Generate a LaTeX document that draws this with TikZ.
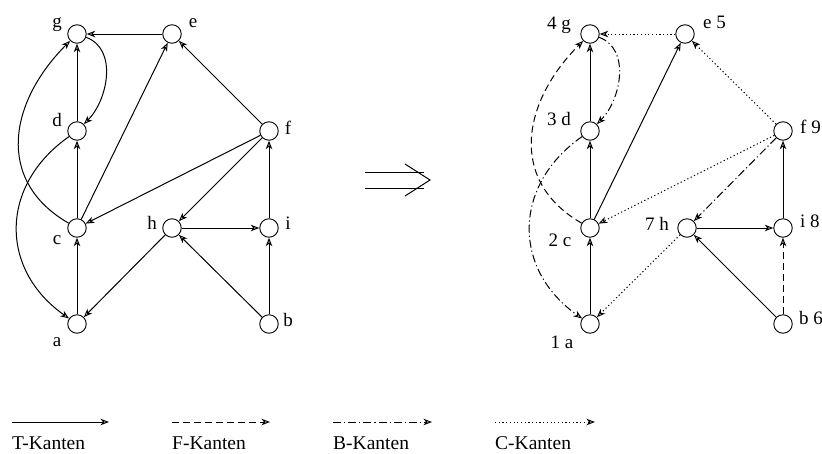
\documentclass[tikz,border=0pt]{standalone}
\usepackage{fontspec}
\setmainfont{Liberation Serif}
\usetikzlibrary{positioning, arrows.meta}

\begin{document}
\begin{tikzpicture}[x=1pt, y=1pt,
    vertex/.style={circle, draw, line width=0.9pt, minimum size=18.5pt, inner sep=0pt},
    lbl/.style={inner sep=0pt, font=\fontsize{19}{21}\selectfont},
    keylbl/.style={lbl, anchor=base west, font=\fontsize{19.5}{21}\selectfont},
    link/.style={line width=1pt, -{Stealth[open, length=8.5pt, width=6.5pt, inset=2.5pt]}},
    tedge/.style={link},
    fedge/.style={link, dash pattern=on 7pt off 4pt},
    bedge/.style={link, dash pattern=on 8pt off 3pt on 1.2pt off 3pt},
    cedge/.style={link, dash pattern=on 1.2pt off 2.5pt}
  ]
  \useasboundingbox (0,0) rectangle (822,-453);

  % Graph vorher
  \node[vertex] (g) at (77,-34) {};
  \node[vertex] (e) at (172,-34) {};
  \node[vertex] (d) at (77,-131) {};
  \node[vertex] (f) at (269,-131) {};
  \node[vertex] (c) at (77,-228) {};
  \node[vertex] (h) at (172,-228) {};
  \node[vertex] (i) at (269,-228) {};
  \node[vertex] (a) at (77,-324) {};
  \node[vertex] (b) at (269,-324) {};

  \node[lbl] (lg) at (57,-25) {g};
  \node[lbl] (le) at (193,-23) {e};
  \node[lbl] (ld) at (57,-120) {d};
  \node[lbl] (lf) at (288,-128) {f};
  \node[lbl] (lc) at (57,-240) {c};
  \node[lbl] (lh) at (152,-223) {h};
  \node[lbl] (li) at (288,-223) {i};
  \node[lbl] (la) at (57,-342) {a};
  \node[lbl] (lb) at (288,-320) {b};

  \draw[tedge] (e) -- (g);
  \draw[tedge] (d) -- (g);
  \draw[tedge] (c) -- (d);
  \draw[tedge] (a) -- (c);
  \draw[tedge] (c) -- (e);
  \draw[tedge] (f) -- (e);
  \draw[tedge] (f) -- (c);
  \draw[tedge] (f) -- (h);
  \draw[tedge] (h) -- (i);
  \draw[tedge] (i) -- (f);
  \draw[tedge] (b) -- (h);
  \draw[tedge] (b) -- (i);
  \draw[tedge] (h) -- (a);
  \draw[tedge] (c) to[out=150, in=225, looseness=1.2] (g);
  \draw[tedge] (d) to[out=215, in=145, looseness=1.2] (a);
  \draw[tedge] (g) to[out=-20, in=45] (d);

  % Doppelpfeil
  \draw[line width=1pt] (365,-172) -- (424,-172);
  \draw[line width=1pt] (365,-188) -- (424,-188);
  \draw[line width=1pt] (405,-164) -- (430,-180) -- (405,-196);

  % Graph nachher
  \node[vertex] (g2) at (590,-34) {};
  \node[vertex] (e2) at (685,-34) {};
  \node[vertex] (d2) at (590,-131) {};
  \node[vertex] (f2) at (783,-131) {};
  \node[vertex] (c2) at (590,-228) {};
  \node[vertex] (h2) at (687,-228) {};
  \node[vertex] (i2) at (783,-228) {};
  \node[vertex] (a2) at (590,-324) {};
  \node[vertex] (b2) at (783,-324) {};

  \node[lbl] (lg2) at (559,-25) {4 g};
  \node[lbl, anchor=west] (le2) at (703,-22) {e 5};
  \node[lbl] (ld2) at (559,-119) {3 d};
  \node[lbl, anchor=west] (lf2) at (800,-127) {f 9};
  \node[lbl] (lc2) at (560,-240) {2 c};
  \node[lbl] (lh2) at (657,-224) {7 h};
  \node[lbl, anchor=west] (li2) at (800,-221) {i 8};
  \node[lbl] (la2) at (562,-342) {1 a};
  \node[lbl, anchor=west] (lb2) at (799,-318) {b 6};

  \draw[tedge] (d2) -- (g2);
  \draw[tedge] (c2) -- (d2);
  \draw[tedge] (a2) -- (c2);
  \draw[tedge] (c2) -- (e2);
  \draw[tedge] (h2) -- (i2);
  \draw[tedge] (i2) -- (f2);
  \draw[tedge] (b2) -- (h2);
  \draw[fedge] (b2) -- (i2);
  \draw[fedge] (c2) to[out=150, in=225, looseness=1.2] (g2);
  \draw[bedge] (d2) to[out=215, in=145, looseness=1.2] (a2);
  \draw[bedge] (g2) to[out=-20, in=45] (d2);
  \draw[bedge] (f2) -- (h2);
  \draw[cedge] (e2) -- (g2);
  \draw[cedge] (f2) -- (e2);
  \draw[cedge] (f2) -- (c2);
  \draw[cedge] (h2) -- (a2);

  % Legende
  \coordinate (t1) at (12,-422);  \coordinate (t2) at (109,-422);
  \coordinate (f1) at (172,-422); \coordinate (f2e) at (270,-422);
  \coordinate (b1) at (333,-422); \coordinate (b2e) at (432,-422);
  \coordinate (c1) at (495,-422); \coordinate (c2e) at (595,-422);
  \draw[tedge] (t1) -- (t2);
  \draw[fedge] (f1) -- (f2e);
  \draw[bedge] (b1) -- (b2e);
  \draw[cedge] (c1) -- (c2e);
  \node[keylbl] (lt) at (12,-449) {T-Kanten};
  \node[keylbl] (lfk) at (172,-449) {F-Kanten};
  \node[keylbl] (lbk) at (333,-449) {B-Kanten};
  \node[keylbl] (lck) at (495,-449) {C-Kanten};
\end{tikzpicture}
\end{document}
